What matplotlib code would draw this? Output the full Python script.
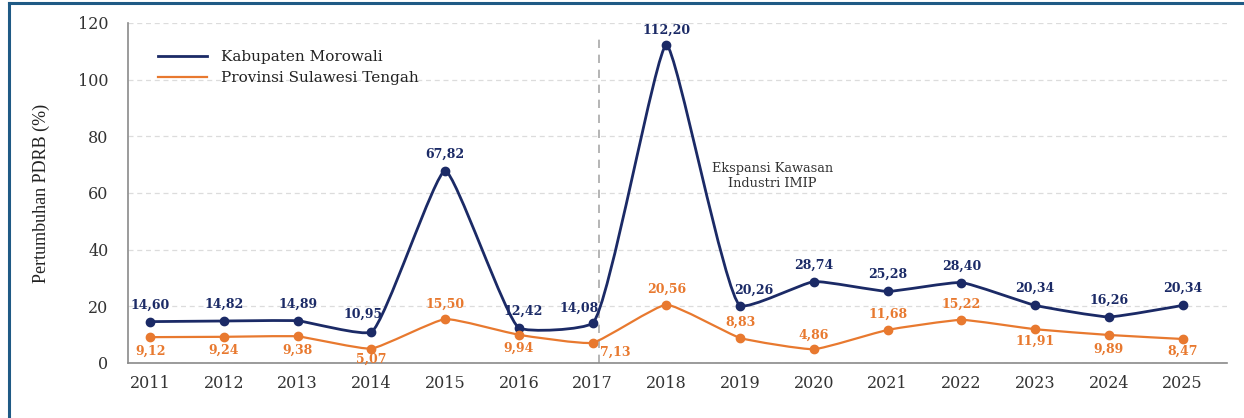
import numpy as np
import matplotlib.pyplot as plt
from matplotlib.path import Path
from matplotlib.patches import PathPatch
from matplotlib.lines import Line2D

# Data
years = [2011, 2012, 2013, 2014, 2015, 2016, 2017, 2018, 2019, 2020, 2021, 2022, 2023, 2024, 2025]
morowali = [14.60, 14.82, 14.89, 10.95, 67.82, 12.42, 14.08, 112.20, 20.26, 28.74, 25.28, 28.40, 20.34, 16.26, 20.34]
sulteng = [9.12, 9.24, 9.38, 5.07, 15.50, 9.94, 7.13, 20.56, 8.83, 4.86, 11.68, 15.22, 11.91, 9.89, 8.47]
yticks = [0, 20, 40, 60, 80, 100, 120]

# label offsets in points (dx, dy)
off_blue = [(0, 12), (0, 12), (0, 12), (-6, 13), (0, 12), (3, 12), (-10, 11), (0, 11),
            (10, 11), (0, 12), (0, 12), (0, 12), (0, 12), (0, 12), (0, 12)]
off_orange = [(0, -10), (0, -10), (0, -10), (0, -8), (0, 11), (0, -10), (16, -7), (0, 11),
              (0, 11), (0, 10), (0, 11), (0, 11), (0, -9), (0, -10), (0, -9)]

navy = '#1b2a66'
orange = '#e8792f'


def fmt(v):
    return ('%.2f' % v).replace('.', ',')


def smooth_path(ax, xs, ys, alpha=0.5, tension=0.4):
    # centripetal catmull-rom in pixel space -> cubic bezier path, handles shortened
    pts = ax.transData.transform(np.column_stack([xs, ys]))
    n = len(pts)
    verts = [pts[0]]
    codes = [Path.MOVETO]
    for i in range(n - 1):
        p0 = pts[i - 1] if i > 0 else pts[i]
        p1, p2 = pts[i], pts[i + 1]
        p3 = pts[i + 2] if i + 2 < n else pts[i + 1]
        l01 = np.hypot(*(p1 - p0)) ** alpha
        l12 = np.hypot(*(p2 - p1)) ** alpha
        l23 = np.hypot(*(p3 - p2)) ** alpha
        c1, c2 = p1.copy(), p2.copy()
        if l01 > 1e-9:
            a = 2 * l01 ** 2 + 3 * l01 * l12 + l12 ** 2
            c1 = (p1 * a - p0 * l12 ** 2 + p2 * l01 ** 2) / (3 * l01 * (l01 + l12))
        if l23 > 1e-9:
            b = 2 * l23 ** 2 + 3 * l23 * l12 + l12 ** 2
            c2 = (p2 * b + p1 * l23 ** 2 - p3 * l12 ** 2) / (3 * l23 * (l23 + l12))
        c1 = p1 + tension * (c1 - p1)
        c2 = p2 + tension * (c2 - p2)
        verts += [c1, c2, p2]
        codes += [Path.CURVE4] * 3
    inv = ax.transData.inverted()
    return Path(inv.transform(np.array(verts)), codes)


fig = plt.figure(figsize=(12.44, 4.18), dpi=100)
ax = fig.add_axes([0.1029, 0.1316, 0.8834, 0.8134])
ax.set_xlim(2010.70, 2025.6)
ax.set_ylim(0, 120)

for s in ['top', 'right']:
    ax.spines[s].set_visible(False)
for s in ['left', 'bottom']:
    ax.spines[s].set_color('#8a8a8a')
    ax.spines[s].set_linewidth(1.2)

ax.set_yticks(yticks)
ax.set_xticks(years)
ax.tick_params(length=0, labelsize=11.5, labelcolor='#333333')
ax.tick_params(axis='y', pad=14)
ax.tick_params(axis='x', pad=9)
for lab in ax.get_xticklabels() + ax.get_yticklabels():
    lab.set_family('DejaVu Serif')
ax.yaxis.grid(True, linestyle=(0, (4, 3)), color='#dcdcdc', linewidth=0.9)
ax.set_axisbelow(True)

ax.set_ylabel('Pertumbuhan PDRB (%)', family='Liberation Serif', fontsize=13, color='#222222', labelpad=20)

# vertical dashed line
ax.plot([2017.08, 2017.08], [0, 116.5], linestyle=(0, (5, 4)), color='#a8a8a8', linewidth=1.2)
ax.text(2019.44, 66, 'Ekspansi Kawasan\nIndustri IMIP', ha='center', va='center',
        family='DejaVu Serif', fontsize=9.3, color='#333333', linespacing=1.2)

# lines
ax.add_patch(PathPatch(smooth_path(ax, years, morowali), facecolor='none', edgecolor=navy, linewidth=2.0, zorder=3))
ax.add_patch(PathPatch(smooth_path(ax, years, sulteng), facecolor='none', edgecolor=orange, linewidth=1.6, zorder=3))
ax.plot(years, morowali, 'o', color=navy, markersize=6, zorder=4)
ax.plot(years, sulteng, 'o', color=orange, markersize=6, zorder=4)

for x, v, o in zip(years, morowali, off_blue):
    ax.annotate(fmt(v), (x, v), xytext=o, textcoords='offset points', ha='center', va='center',
                fontsize=9, family='DejaVu Serif', color=navy, fontweight='semibold')
for x, v, o in zip(years, sulteng, off_orange):
    ax.annotate(fmt(v), (x, v), xytext=o, textcoords='offset points', ha='center', va='center',
                fontsize=9, family='DejaVu Serif', color=orange, fontweight='semibold')

handles = [Line2D([], [], color=navy, linewidth=2.0), Line2D([], [], color=orange, linewidth=1.6)]
ax.legend(handles, ['Kabupaten Morowali', 'Provinsi Sulawesi Tengah'], loc='upper left',
          bbox_to_anchor=(0.015, 0.96), frameon=False, prop={'family': 'DejaVu Serif', 'size': 11},
          handlelength=3.2, handletextpad=0.9, labelspacing=0.45, labelcolor='#222222')

# frame around image
fig.add_artist(Line2D([0.0072, 1.0], [0.993, 0.993], color='#1f5a85', linewidth=2.2, transform=fig.transFigure))
fig.add_artist(Line2D([0.0072, 0.0072], [0.0, 0.993], color='#1f5a85', linewidth=2.2, transform=fig.transFigure))

fig.savefig('out.png', dpi=100)
